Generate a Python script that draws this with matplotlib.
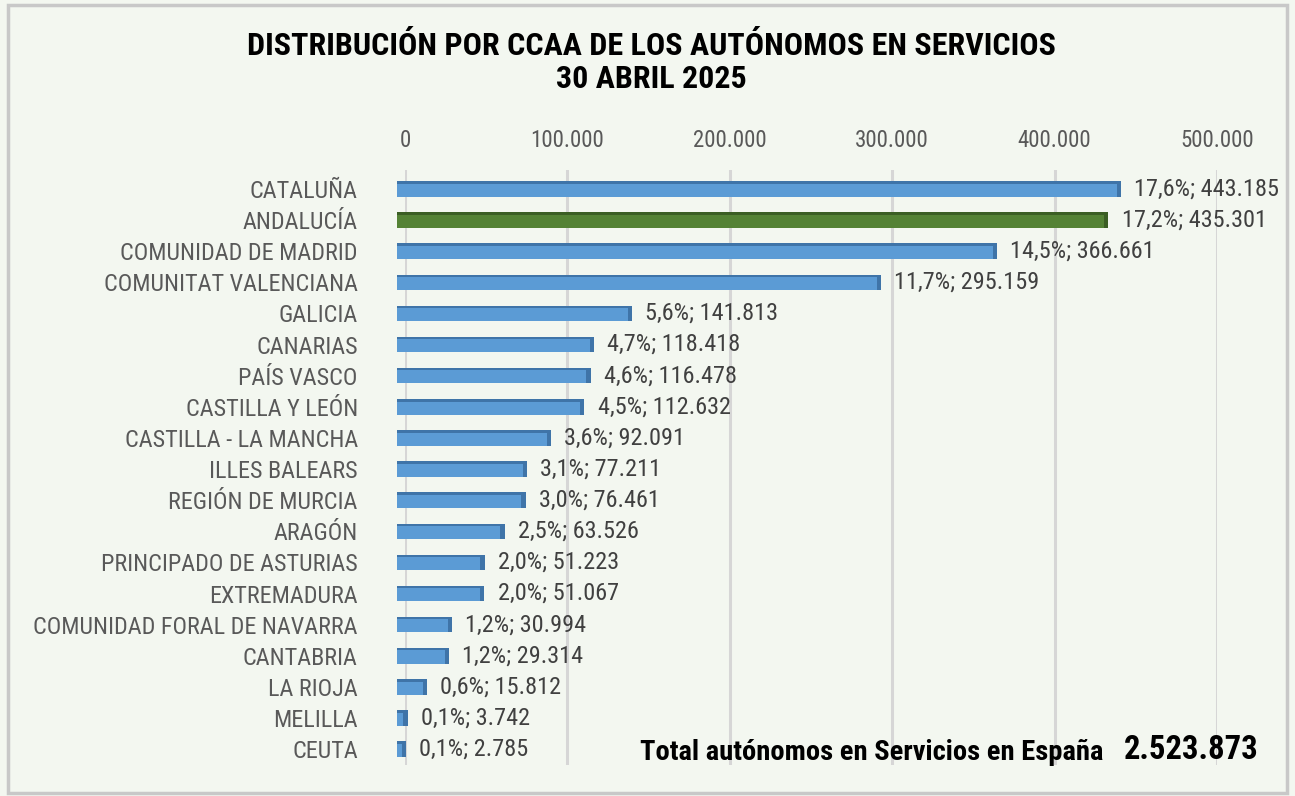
import matplotlib.pyplot as plt
from matplotlib import font_manager
from matplotlib.patches import Rectangle

regiones = ['CATALUÑA', 'ANDALUCÍA', 'COMUNIDAD DE MADRID', 'COMUNITAT VALENCIANA', 'GALICIA',
            'CANARIAS', 'PAÍS VASCO', 'CASTILLA Y LEÓN', 'CASTILLA - LA MANCHA', 'ILLES BALEARS',
            'REGIÓN DE MURCIA', 'ARAGÓN', 'PRINCIPADO DE ASTURIAS', 'EXTREMADURA',
            'COMUNIDAD FORAL DE NAVARRA', 'CANTABRIA', 'LA RIOJA', 'MELILLA', 'CEUTA']
autonomos = [443185, 435301, 366661, 295159, 141813, 118418, 116478, 112632, 92091, 77211,
             76461, 63526, 51223, 51067, 30994, 29314, 15812, 3742, 2785]
porcentajes = ['17,6%', '17,2%', '14,5%', '11,7%', '5,6%', '4,7%', '4,6%', '4,5%', '3,6%', '3,1%',
               '3,0%', '2,5%', '2,0%', '2,0%', '1,2%', '1,2%', '0,6%', '0,1%', '0,1%']
ticks = [0, 100000, 200000, 300000, 400000, 500000]
tick_labels = ['0', '100.000', '200.000', '300.000', '400.000', '500.000']
total_label = 'Total autónomos en Servicios en España'
total_value = '2.523.873'
destacada = 'ANDALUCÍA'

# the original uses Arial Narrow: look for some condensed face, else shrink Liberation Sans
entries = font_manager.fontManager.ttflist
names = {f.name for f in entries}
condensed = {f.name for f in entries if f.stretch in ('condensed', 'semi-condensed', 'extra-condensed')}
k = 1.0
if 'Liberation Sans Narrow' in names:
    family = 'Liberation Sans Narrow'
elif 'Roboto Condensed' in names:
    family = 'Roboto Condensed'
else:
    family = None
    for n in ['Liberation Sans', 'Roboto', 'Noto Sans', 'Open Sans', 'DejaVu Sans']:
        if n in condensed:
            family = n
            plt.rcParams['font.stretch'] = 'condensed'
            break
    if family is None:
        family = 'Liberation Sans'
        k = 0.84
plt.rcParams['font.family'] = [family, 'DejaVu Sans']

BG = '#F3F7F0'
BLUE, BLUE_DARK = '#5B9BD5', '#3F74A8'
GREEN, GREEN_DARK = '#548235', '#3B5E24'


def fmt(v):
    return f'{v:,}'.replace(',', '.')


fig = plt.figure(figsize=(12.95, 7.96), dpi=100, facecolor=BG)
fig.patches.append(Rectangle((0.006, 0.004), 0.988, 0.99, transform=fig.transFigure,
                             fill=False, edgecolor='#C8C8C8', linewidth=2.5))
ax = fig.add_axes([405 / 1295, 31 / 796, 812 / 1295, 595 / 796], facecolor=BG)

pos = list(range(len(regiones)))
colors = [GREEN if r == destacada else BLUE for r in regiones]
darks = [GREEN_DARK if r == destacada else BLUE_DARK for r in regiones]
shift = -4800  # 3D bars sit a little left of the zero gridline
depth = 2600

ax.barh(pos, autonomos, height=0.5, left=shift, color=colors, zorder=3, clip_on=False)
ax.barh(pos, [depth] * len(pos), height=0.5, left=[v + shift for v in autonomos],
        color=darks, zorder=3, clip_on=False)
ax.barh([p - 0.21 for p in pos], autonomos, height=0.08, left=shift, color=darks, zorder=3,
        clip_on=False)

for p, v, pc in zip(pos, autonomos, porcentajes):
    ax.annotate(f'{pc}; {fmt(v)}', (v, p), xytext=(7, 0), textcoords='offset points',
                va='center', ha='left', fontsize=17.5 * k, color='#404040', zorder=4)

ax.set_xlim(0, 500000)
ax.set_ylim(18.51, -0.61)
ax.set_xticks(ticks)
ax.set_xticklabels(tick_labels)
ax.xaxis.tick_top()
ax.tick_params(axis='x', length=0, pad=13, labelsize=16.5 * k, labelcolor='#595959')
ax.set_yticks(pos)
ax.set_yticklabels(regiones)
ax.tick_params(axis='y', length=0, pad=34, labelsize=17.4 * k, labelcolor='#595959')
ax.grid(axis='x', color='#D6D6D6', linewidth=2.2, zorder=0)
for s in ax.spines.values():
    s.set_visible(False)

fig.text(0.503, 0.921, 'DISTRIBUCIÓN POR CCAA DE LOS AUTÓNOMOS EN SERVICIOS\n30 ABRIL 2025',
         ha='center', va='center', fontsize=23 * k, fontweight='bold', color='black',
         linespacing=1.12)
fig.text(1103 / 1295, 1 - 752 / 796, total_label, ha='right', va='center', fontsize=20.5 * k,
         fontweight='bold', color='black')
fig.text(1259 / 1295, 1 - 750 / 796, total_value, ha='right', va='center', fontsize=23.5 * k,
         fontweight='bold', color='black')

fig.savefig('out.png', dpi=100, facecolor=BG)
